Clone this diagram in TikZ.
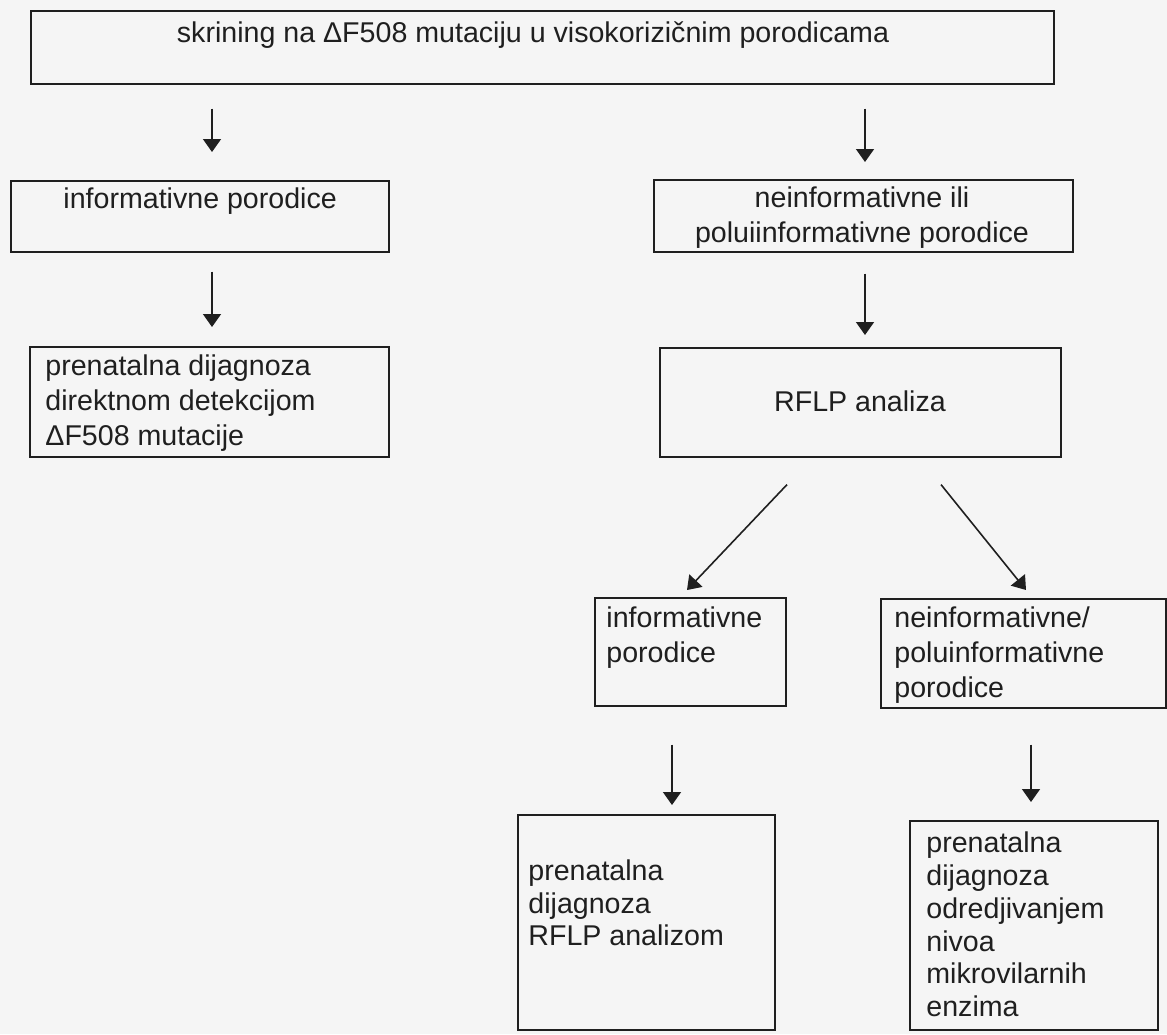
\documentclass[tikz,border=0pt]{standalone}
\usepackage{fontspec}
\setmainfont{Liberation Sans}
\usepackage{tikz}
\usetikzlibrary{arrows,arrows.meta,calc,positioning}

\tikzset{
  box/.style={draw=black!88, line width=0.8pt, rectangle, inner sep=0pt, anchor=north west},
  lbl/.style={inner sep=0pt, text=black!88, font=\fontsize{14.3}{17.5}\selectfont},
  arr/.style={-{Triangle[width=9pt,length=6.5pt]}, line width=0.8pt, draw=black!88}
}

\begin{document}
\begin{tikzpicture}[x=0.5pt,y=-0.5pt]
  \useasboundingbox (0,0) rectangle (1167,1034);
  \clip (0,0) rectangle (1167,1034);
  \fill[black!4] (0,0) rectangle (1167,1034);

  % boxes
  \node[box, minimum width=511.5pt, minimum height=36.5pt] (top) at (30,10) {};
  \node[box, minimum width=189pt, minimum height=35.5pt] (info) at (10,180) {};
  \node[box, minimum width=209.5pt, minimum height=36pt] (neinf) at (653,179) {};
  \node[box, minimum width=179.5pt, minimum height=55pt] (pren) at (29,346) {};
  \node[box, minimum width=200.5pt, minimum height=54.5pt] (rflp) at (659,347) {};
  \node[box, minimum width=95.5pt, minimum height=54pt] (info2) at (594,597) {};
  \node[box, minimum width=142.5pt, minimum height=54.5pt] (neinf2) at (880,598) {};
  \node[box, minimum width=128.5pt, minimum height=107.5pt] (botL) at (517,814) {};
  \node[box, minimum width=124pt, minimum height=104.5pt] (botR) at (909,820) {};

  % texts
  \node[lbl, anchor=base] (topT) at (533,42) {skrining na ΔF508 mutaciju u visokorizičnim porodicama};
  \node[lbl, anchor=base west] (infoT) at (63,208) {informativne porodice};
  \node[lbl, anchor=north, align=center] (neinfT) at (862,186.2) {neinformativne ili\\poluiinformativne porodice};
  \node[lbl, anchor=north west, align=left] (prenT) at (45,354.5) {prenatalna dijagnoza\\direktnom detekcijom\\ΔF508 mutacije};
  \node[lbl, anchor=base] (rflpT) at (860,411) {RFLP analiza};
  \node[lbl, anchor=north west, align=left] (info2T) at (606,606.2) {informativne\\porodice};
  \node[lbl, anchor=north west, align=left] (neinf2T) at (894,606.2) {neinformativne/\\poluinformativne\\porodice};
  \node[lbl, anchor=north west, align=left, font=\fontsize{14.3}{16.25}\selectfont] (botLT) at (528,859.5) {prenatalna\\dijagnoza\\RFLP analizom};
  \node[lbl, anchor=north west, align=left, font=\fontsize{14.3}{16.4}\selectfont] (botRT) at (926,831.5) {prenatalna\\dijagnoza\\odredjivanjem\\nivoa\\mikrovilarnih\\enzima};

  % arrows
  \coordinate (xa) at (212,0);
  \coordinate (xb) at (865,0);
  \coordinate (xc) at (672,0);
  \coordinate (xd) at (1031,0);
  \draw[arr, shorten <=12pt, shorten >=14pt] (top.south -| xa) -- (info.north -| xa);
  \draw[arr, shorten <=12pt, shorten >=8.5pt] (top.south -| xb) -- (neinf.north -| xb);
  \draw[arr, shorten <=9.5pt, shorten >=9.5pt] (info.south -| xa) -- (pren.north -| xa);
  \draw[arr, shorten <=10.5pt, shorten >=6pt] (neinf.south -| xb) -- (rflp.north -| xb);
  \draw[arr] ($(rflp.south west)+(128,27)$) -- ($(info2.north west)+(93,-7)$);
  \draw[arr] ($(rflp.south west)+(282,27)$) -- ($(neinf2.north west)+(146,-8)$);
  \draw[arr, shorten <=19pt, shorten >=4.5pt] (info2.south -| xc) -- (botL.north -| xc);
  \draw[arr, shorten <=18pt, shorten >=9pt] (neinf2.south -| xd) -- (botR.north -| xd);
\end{tikzpicture}
\end{document}
